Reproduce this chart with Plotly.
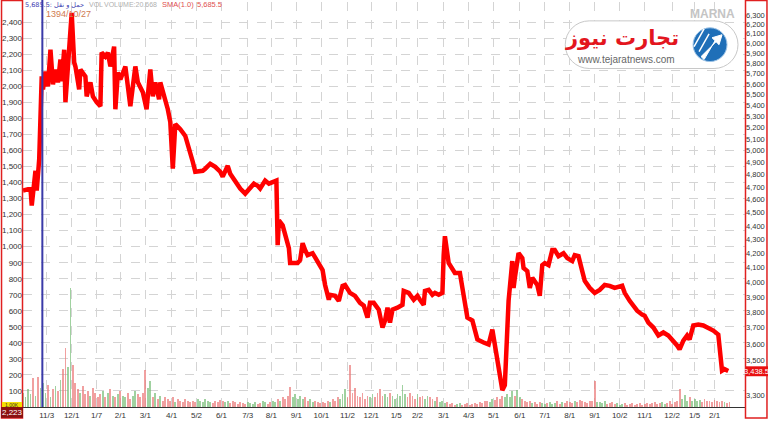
import numpy as np
import plotly.graph_objects as go

# ---------------- data ----------------
price_day = [0, 6, 7, 10, 11, 13, 15, 16, 18, 20, 22, 24, 26, 28, 30, 31, 33, 34, 36, 38, 39, 41, 42, 45, 46,
             50, 51, 54, 56, 59, 62, 63, 66, 68, 70, 73, 74, 76, 78, 82, 84, 86, 90, 92, 96, 99, 102, 104, 106,
             109, 110, 114, 116, 118, 120, 122, 126, 130, 134, 136, 138, 144, 146, 150, 154, 158, 160, 164, 166,
             170, 174, 178, 182, 185, 188, 190, 194, 197, 201, 203, 204, 205, 208, 210, 213, 214, 220, 222, 224,
             226, 228, 232, 236, 240, 242, 245, 246, 250, 253, 256, 258, 262, 266, 270, 273, 276, 278, 281, 285,
             288, 290, 292, 294, 296, 300, 304, 305, 309, 313, 316, 318, 321, 322, 325, 328, 330, 333, 336, 337,
             338, 341, 344, 346, 350, 353, 356, 360, 364, 369, 373, 376, 378, 380, 384, 386, 389, 392, 393, 394,
             397, 400, 401, 404, 406, 408, 412, 414, 416, 418, 421, 424, 426, 429, 433, 436, 440, 442, 445, 448,
             450, 454, 458, 462, 466, 470, 474, 480, 482, 486, 492, 496, 498, 501, 505, 509, 513, 517, 521, 524,
             526, 529, 532, 534, 537, 541, 545, 549, 553, 557, 560, 562, 565]
price_val = [4673, 4689, 4556, 4833, 4673, 4932, 5674, 5551, 5722, 5579, 5938, 5598, 5741, 5617, 5839, 5627,
             5938, 5431, 5771, 6112, 6321, 5810, 5771, 5551, 5741, 5674, 5485, 5617, 5485, 5431, 5394, 5909,
             5869, 5909, 5771, 5969, 5366, 5712, 5645, 5771, 5579, 5394, 5771, 5617, 5523, 5366, 5741, 5485,
             5617, 5458, 5617, 5458, 5366, 5250, 4850, 5232, 5188, 5128, 4991, 4908, 4825, 4833, 4850, 4891,
             4866, 4825, 4785, 4874, 4809, 4745, 4689, 4649, 4690, 4728, 4712, 4689, 4753, 4728, 4745, 4753,
             4259, 4442, 4405, 4331, 4237, 4131, 4131, 4152, 4273, 4223, 4187, 4201, 4145, 4082, 3980, 3881,
             3914, 3907, 3874, 3974, 3980, 3927, 3907, 3861, 3842, 3765, 3861, 3861, 3816, 3702, 3746, 3829,
             3733, 3816, 3829, 3848, 3940, 3927, 3881, 3907, 3881, 3848, 3940, 3947, 3914, 3927, 3914, 3927,
             4187, 4324, 4131, 4096, 4062, 4062, 3927, 3765, 3746, 3628, 3609, 3597, 3689, 3597, 3519, 3328,
             3357, 3874, 4145, 3960, 4028, 4201, 4166, 4096, 4075, 3960, 4028, 3980, 3907, 4117, 4131, 4117,
             4223, 4223, 4180, 4201, 4166, 4145, 4187, 4180, 4075, 4008, 3960, 3927, 3947, 3980, 3974, 3960,
             3974, 3927, 3874, 3810, 3784, 3777, 3733, 3702, 3652, 3671, 3652, 3621, 3591, 3567, 3621, 3652,
             3628, 3715, 3721, 3715, 3702, 3683, 3658, 3440, 3449, 3438.5]

volume_val = [90, 60, 110, 80, 180, 70, 190, 120, 150, 90,
              140, 60, 110, 130, 100, 170, 240, 370, 250, 740,
              260, 150, 110, 90, 130, 80, 100, 70, 120, 90,
              60, 80, 100, 60, 90, 110, 70, 60, 80, 100,
              70, 60, 90, 50, 70, 100, 80, 60, 90, 230,
              120, 160, 60, 90, 50, 70, 40, 60, 50, 40,
              60, 30, 50, 40, 30, 50, 40, 30, 40, 30,
              50, 40, 30, 50, 40, 30, 25, 40, 30, 45,
              35, 30, 40, 25, 35, 30, 20, 30, 25, 20,
              30, 25, 20, 30, 20, 25, 35, 30, 20, 30,
              40, 30, 50, 40, 60, 50, 70, 125, 60, 80,
              50, 70, 50, 60, 40, 50, 30, 40, 30, 25,
              30, 25, 40, 30, 50, 40, 60, 50, 80, 110,
              60, 260, 90, 120, 70, 60, 90, 50, 70, 60,
              80, 60, 90, 115, 70, 80, 60, 90, 70, 50,
              80, 70, 140, 80, 60, 90, 70, 50, 80, 60,
              70, 50, 70, 60, 50, 40, 60, 30, 40, 25,
              30, 20, 25, 15, 20, 25, 15, 20, 25, 15,
              20, 25, 20, 30, 25, 35, 40, 30, 50, 45,
              60, 50, 70, 60, 80, 65, 100, 70, 105, 60,
              50, 40, 30, 35, 25, 30, 20, 30, 25, 20,
              25, 30, 20, 25, 35, 20, 30, 25, 40, 30,
              25, 35, 30, 45, 40, 30, 25, 35, 35, 165,
              30, 30, 25, 35, 20, 25, 30, 20, 25, 15,
              20, 25, 15, 20, 25, 15, 20, 25, 15, 20,
              25, 20, 25, 30, 20, 25, 30, 20, 25, 35,
              20, 30, 35, 115, 50, 75, 40, 60, 35, 50,
              40, 45, 30, 50, 35, 40, 30, 45, 35, 30,
              40, 30, 25, 30]
volume_day = list(range(0, 2 * len(volume_val), 2))

tick_day = [19, 39, 59, 78, 98, 119, 139, 159, 180, 199, 219, 239, 260, 279, 299, 316, 337, 357, 377, 398,
            418, 438, 458, 478, 498, 520, 538, 554]
tick_text = ["11/3", "12/1", "1/7", "2/1", "3/1", "4/1", "5/2", "6/1", "7/3", "8/1", "9/1", "10/1", "11/2",
             "12/1", "1/5", "2/2", "3/1", "4/3", "5/1", "6/1", "7/1", "8/1", "9/1", "10/2", "11/1", "12/2",
             "1/5", "2/1"]
left_ticks = list(range(100, 2500, 100))
right_ticks = [3300, 3500, 3600, 3700, 3800, 3900, 4000, 4100, 4200, 4300, 4400, 4500, 4600, 4700, 4800,
               4900, 5000, 5100, 5200, 5300, 5400, 5500, 5600, 5700, 5800, 5900, 6000, 6100, 6200, 6300]
cursor_day = 15.5
last_price = 3438.5

# ---------------- layout helpers ----------------
W, H = 768, 422
ML, MR, MT, MB = 22, 23, 2, 12
PW, PH = W - ML - MR, H - MT - MB


def px(x):
    return (x - ML) / PW


def py(y):
    return (H - MB - y) / PH


# volume colours from price direction
interp = np.interp(volume_day, price_day, price_val)
prev = np.interp(np.array(volume_day) - 2, price_day, price_val)
vcol = ["rgba(120,190,120,0.7)" if a >= b else "rgba(235,120,120,0.7)" for a, b in zip(interp, prev)]

fig = go.Figure()
fig.add_trace(go.Bar(x=volume_day, y=volume_val, marker=dict(color=vcol, line=dict(width=0)),
                     width=1.5, yaxis="y", hoverinfo="skip"))
fig.add_trace(go.Scatter(x=price_day, y=price_val, mode="lines", yaxis="y2",
                         line=dict(color="#ff0000", width=4.5, shape="linear"), hoverinfo="skip"))

tickfont = dict(family="Liberation Sans, Arial", size=8, color="#333333")
fig.update_layout(
    width=W, height=H, autosize=False,
    margin=dict(l=ML, r=MR, t=MT, b=MB, pad=0),
    paper_bgcolor="white", plot_bgcolor="white",
    showlegend=False, bargap=0,
    xaxis=dict(range=[0, (745 - 22) * 0.8], tickvals=tick_day, ticktext=tick_text, tickfont=tickfont,
               showgrid=True, gridcolor="#d4d4d4", griddash="dash", gridwidth=1,
               showline=True, linecolor="#333333", linewidth=1, ticks="", zeroline=False),
    yaxis=dict(range=[0, 2526], tickvals=left_ticks, tickformat=",d", tickfont=tickfont,
               showgrid=True, gridcolor="#d4d4d4", griddash="dash", gridwidth=1, zeroline=False,
               ticks="", showline=False),
    yaxis2=dict(type="log", range=[3.50975, 3.80887], overlaying="y", side="right",
                tickvals=right_ticks, tickformat=",d",
                tickfont=dict(family="Liberation Sans, Arial", size=7.5, color="#333333"),
                showgrid=False, zeroline=False, ticks="", showline=False),
)

shapes = []
# cursor line
shapes.append(dict(type="line", xref="x", yref="paper", x0=cursor_day, x1=cursor_day, y0=0, y1=1.005,
                   line=dict(color="#3a3aa8", width=2)))
# left & right panels
shapes.append(dict(type="rect", xref="paper", yref="paper", x0=px(0.5), x1=px(21.5), y0=py(421), y1=py(0.5),
                   line=dict(color="#e02020", width=1.5)))
shapes.append(dict(type="rect", xref="paper", yref="paper", x0=px(745.5), x1=px(767), y0=py(421), y1=py(0.5),
                   line=dict(color="#e02020", width=1.5)))
# bottom-left boxes
shapes.append(dict(type="rect", xref="paper", yref="paper", x0=px(1), x1=px(21), y0=py(410), y1=py(405),
                   fillcolor="#f5e000", line=dict(width=0)))
shapes.append(dict(type="rect", xref="paper", yref="paper", x0=px(0), x1=px(22), y0=py(421), y1=py(410),
                   fillcolor="#8b1010", line=dict(width=0)))
# last price box
shapes.append(dict(type="rect", xref="paper", yref="paper", x0=px(746), x1=px(768), y0=py(379), y1=py(369),
                   fillcolor="#e81010", line=dict(width=0)))


# logo pill
def path_px(pts):
    s = ""
    for cmd, coords in pts:
        s += cmd
        s += " ".join(f"{px(a):.5f},{py(b):.5f}" for a, b in coords) + " "
    return s + "Z"


k = 13.25
pill = [("M", [(589, 21)]), ("L", [(714, 21)]),
        ("C", [(714 + k, 21), (738, 45 - k), (738, 45)]),
        ("C", [(738, 45 + k), (714 + k, 69), (714, 69)]),
        ("L", [(589, 69)]),
        ("C", [(589 - k, 69), (565, 45 + k), (565, 45)]),
        ("C", [(565, 45 - k), (589 - k, 21), (589, 21)])]
shapes.append(dict(type="path", xref="paper", yref="paper", path=path_px(pill),
                   fillcolor="white", line=dict(color="#c8c8c8", width=1)))
shapes.append(dict(type="circle", xref="paper", yref="paper", x0=px(693), x1=px(727), y0=py(62), y1=py(28),
                   fillcolor="#1f6fb8", line=dict(color="#9dc3e6", width=1)))
for d in [-8, -3, 2]:
    shapes.append(dict(type="line", xref="paper", yref="paper", x0=px(697 + d), y0=py(50 + d),
                       x1=px(707 + d), y1=py(32 + d), line=dict(color="white", width=1.5)))
arrow = [("M", [(701, 57)]), ("L", [(716, 42)]), ("L", [(712, 38)]), ("L", [(722, 35)]),
         ("L", [(719, 45)]), ("L", [(715, 41)]), ("L", [(704, 60)])]
shapes.append(dict(type="path", xref="paper", yref="paper", path=path_px(arrow),
                   fillcolor="white", line=dict(color="white", width=1)))
fig.update_layout(shapes=shapes)

ann = []


def txt(x, y, s, size, color, anchor="left", family="Liberation Sans, Arial", bold=False):
    if bold:
        s = "<b>" + s + "</b>"
    ann.append(dict(xref="paper", yref="paper", x=px(x), y=py(y), text=s, showarrow=False,
                    xanchor=anchor, yanchor="middle", font=dict(family=family, size=size, color=color)))


txt(22, 5, "5,685.5: حمل و نقل", 6.5, "#3c3cb0", family="DejaVu Sans, Liberation Sans")
txt(86, 5, "VOL", 7, "#b0b0b0")
txt(101, 5, "VOLUME:20.668", 7, "#b0b0b0")
txt(159, 5, "SMA(1.0)", 7.5, "#e05050")
txt(194, 5, "5,685.5", 7.5, "#e05050")
txt(43, 14, "1394/10/27", 9, "#d07a50")
txt(11, 407.5, "1.00K", 5, "#333333", anchor="center")
txt(11, 415.5, "2,223", 8, "white", anchor="center")
txt(757, 374, "3,438.5", 7.5, "white", anchor="center")
txt(712, 14, "MARNA", 12, "#c4c4c4", anchor="center", bold=True)
txt(622, 38, "تجارت نیوز", 21, "#e3161e", anchor="center", family="DejaVu Sans", bold=True)
txt(626, 60, "www.tejaratnews.com", 10, "#666666", anchor="center")
fig.update_layout(annotations=ann)

fig.write_html("out.html", config={"displayModeBar": False},
               post_script="document.body.style.margin='0';document.body.style.padding='0';")
